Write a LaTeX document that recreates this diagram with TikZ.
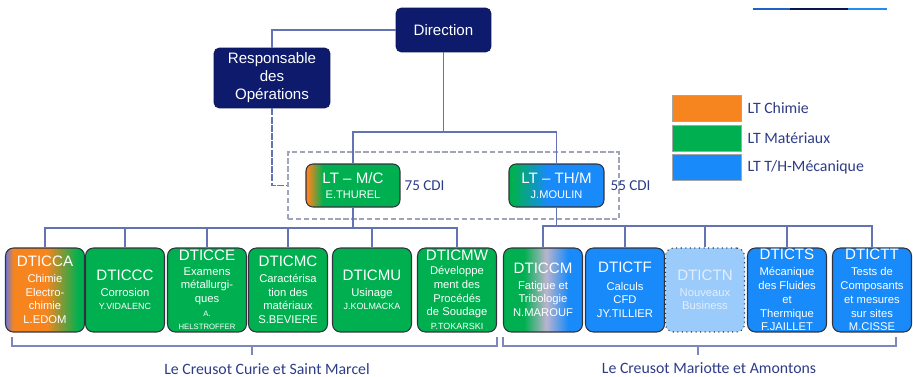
\documentclass[tikz,border=0pt]{standalone}
\usepackage{fontspec}
\setmainfont{Liberation Sans}
\newfontfamily\calib{Carlito}
\usetikzlibrary{positioning}

\definecolor{navybox}{RGB}{14,26,108}
\definecolor{ltorange}{RGB}{246,133,31}
\definecolor{ltgreen}{RGB}{0,176,80}
\definecolor{ltblue}{RGB}{24,138,250}
\definecolor{ltmauve}{RGB}{185,180,205}
\definecolor{ltedge}{RGB}{110,120,215}
\definecolor{palebox}{RGB}{155,203,250}
\definecolor{paletext}{RGB}{225,238,255}
\definecolor{linkcol}{RGB}{100,115,180}
\definecolor{sitecol}{RGB}{125,135,190}
\definecolor{labcol}{RGB}{45,60,135}
\definecolor{grpcol}{RGB}{160,164,185}
\definecolor{rimcol}{RGB}{50,50,60}
\definecolor{barA}{RGB}{30,100,200}
\definecolor{barB}{RGB}{10,20,80}
\definecolor{barC}{RGB}{30,140,240}

% shadings (25bp = left edge, 75bp = right edge)
\pgfdeclarehorizontalshading{chimshade}{100bp}{color(0bp)=(ltedge); color(25bp)=(ltedge); color(30bp)=(ltorange); color(51bp)=(ltorange); color(71bp)=(ltgreen); color(100bp)=(ltgreen)}
\pgfdeclarehorizontalshading{mcshade}{100bp}{color(0bp)=(ltorange); color(26bp)=(ltorange); color(34bp)=(ltgreen); color(100bp)=(ltgreen)}
\pgfdeclarehorizontalshading{thmshade}{100bp}{color(0bp)=(ltgreen); color(27bp)=(ltgreen); color(45bp)=(ltblue); color(100bp)=(ltblue)}
\pgfdeclarehorizontalshading{ccmshade}{100bp}{color(0bp)=(ltgreen); color(38bp)=(ltgreen); color(52bp)=(ltmauve); color(66bp)=(ltblue); color(100bp)=(ltblue)}

\tikzset{
  boss/.style={draw=navybox!80!black, fill=navybox, rounded corners=3pt, text=white, align=center,
    font=\fontsize{8.6}{10.2}\selectfont, inner sep=1pt},
  unit/.style={draw=rimcol, line width=0.6pt, rounded corners=4.5pt, text=white, align=center,
    minimum width=1.58cm, minimum height=1.68cm, inner sep=0.5pt, font=\fontsize{6.4}{7.8}\selectfont},
  lab/.style={draw=rimcol, line width=0.6pt, rounded corners=4pt, text=white, align=center,
    minimum height=0.86cm, inner sep=0.5pt, font=\fontsize{6.3}{8.4}\selectfont},
  grpbox/.style={draw=grpcol, line width=1pt, dash pattern=on 3pt off 1.5pt,
    minimum width=6.62cm, minimum height=1.34cm, inner sep=0pt},
  link/.style={draw=linkcol, line width=0.6pt},
  siteline/.style={draw=sitecol, line width=0.6pt},
  legbox/.style={draw=gray!70, line width=0.5pt, minimum width=1.38cm, minimum height=0.52cm, inner sep=0pt},
  legtext/.style={text=labcol, font=\calib\fontsize{9}{10}\selectfont, inner sep=1pt},
}
\newcommand{\head}[1]{{\fontsize{8.6}{10}\selectfont #1}}
\newcommand{\who}[1]{{\fontsize{5.1}{6}\selectfont #1}}
\newcommand{\wee}[1]{{\fontsize{4.4}{4.8}\selectfont #1}}

\begin{document}
\begin{tikzpicture}[x=0.02cm, y=-0.02cm]
  \useasboundingbox (0,0) rectangle (913,376);

  % top bar
  \fill[barA] (753,8.3) rectangle (790,9.8);
  \fill[barB] (790,8.3) rectangle (848,9.8);
  \fill[barC] (848,8.3) rectangle (887,9.8);

  % direction
  \node[boss, minimum width=1.9cm, minimum height=0.88cm] (dir) at (443.5,30) {Direction};
  \node[boss, minimum width=2.32cm, minimum height=1.2cm] (resp) at (272,78) {Responsable\\des\\Opérations};

  % labs
  \node[grpbox] (grp) at (453.5,185.5) {};
  \node[lab, shade, shading=mcshade, minimum width=1.88cm] (ltmc) at (353,185.5) {\head{LT – M/C}\\E.THUREL};
  \node[lab, shade, shading=thmshade, minimum width=1.9cm] (ltthm) at (556.5,185.5) {\head{LT – TH/M}\\J.MOULIN};
  \node[legtext, right=0.04cm of ltmc, font=\calib\fontsize{8.6}{10}\selectfont] (cdimc) {75 CDI};
  \node[legtext, right=0.08cm of ltthm, font=\calib\fontsize{8.6}{10}\selectfont] (cdithm) {55 CDI};

  % legend
  \node[legbox, fill=ltorange] (leg1) at (706.5,108) {};
  \node[legbox, fill=ltgreen] (leg2) at (706.5,138) {};
  \node[legbox, fill=ltblue] (leg3) at (706.5,167.5) {};
  \node[legtext, right=0.08cm of leg1] (legt1) {LT Chimie};
  \node[legtext, right=0.08cm of leg2] (legt2) {LT Matériaux};
  \node[legtext, right=0.08cm of leg3] (legt3) {LT T/H-Mécanique};

  % units
  \node[unit, shade, shading=chimshade] (cca) at (45,290) {\head{DTICCA}\\[1pt]Chimie\\Electro-\\chimie\\L.EDOM};
  \node[unit, fill=ltgreen] (ccc) at (125,290) {\head{DTICCC}\\[1pt]Corrosion\\\who{Y.VIDALENC}};
  \node[unit, fill=ltgreen] (cce) at (207,290) {\head{DTICCE}\\[0.5pt]Examens\\métallurgi-\\ques\\\wee{A.}\\\wee{HELSTROFFER}};
  \node[unit, fill=ltgreen] (cmc) at (288,290) {\head{DTICMC}\\[1pt]Caractérisa\\tion des\\matériaux\\S.BEVIERE};
  \node[unit, fill=ltgreen] (cmu) at (372,290) {\head{DTICMU}\\[1pt]Usinage\\\who{J.KOLMACKA}};
  \node[unit, fill=ltgreen] (cmw) at (457,290) {\head{DTICMW}\\Développe\\ment des\\Procédés\\de Soudage\\\who{P.TOKARSKI}};
  \node[unit, shade, shading=ccmshade] (ccm) at (543,290) {\head{DTICCM}\\[1pt]Fatigue et\\Tribologie\\N.MAROUF};
  \node[unit, fill=ltblue] (ctf) at (625,290) {\head{DTICTF}\\[2pt]Calculs\\CFD\\JY.TILLIER};
  \node[unit, fill=palebox, dotted, text=paletext] (ctn) at (705,290) {\head{DTICTN}\\[1pt]Nouveaux\\Business};
  \node[unit, fill=ltblue] (cts) at (787,290) {\head{DTICTS}\\[1.5pt]Mécanique\\des Fluides\\et\\Thermique\\F.JAILLET};
  \node[unit, fill=ltblue] (ctt) at (872,290) {\head{DTICTT}\\[1.5pt]Tests de\\Composants\\et mesures\\sur sites\\M.CISSE};

  % lines
  \coordinate (row0) at (0,132);
  \coordinate (rowL) at (0,228);
  \coordinate (rowR) at (0,226);
  \coordinate (split) at (dir.south |- row0);
  \coordinate (busL) at (ltmc.south |- rowL);
  \coordinate (busR) at (ltthm.south |- rowR);
  \draw[link] (dir.south) -- (split);
  \draw[link] (split) -| (ltmc.north);
  \draw[link] (split) -| (ltthm.north);
  \draw[link] (dir.west) -| (resp.north);
  \draw[link, dash pattern=on 4pt off 0.7pt] (resp.south) |- (grp.west);
  \draw[link] (ltmc.south) -- (busL);
  \draw[link] (ltthm.south) -- (busR);
  \foreach \u in {cca,ccc,cce,cmc,cmu,cmw}
    \draw[link] (busL) -| (\u.north);
  \foreach \u in {ccm,ctf,ctn,cts,ctt}
    \draw[link] (busR) -| (\u.north);

  % sites
  \draw[siteline] (12,337) |- (497,346) -- (497,337);
  \draw[siteline] (252,346) -- (252,355);
  \draw[siteline] (503,337) |- (896,346) -- (896,337);
  \draw[siteline] (698,346) -- (698,355);
  \node[legtext] (westsite) at (267,369) {Le Creusot Curie et Saint Marcel};
  \node[legtext] (eastsite) at (709,368) {Le Creusot Mariotte et Amontons};
\end{tikzpicture}
\end{document}
